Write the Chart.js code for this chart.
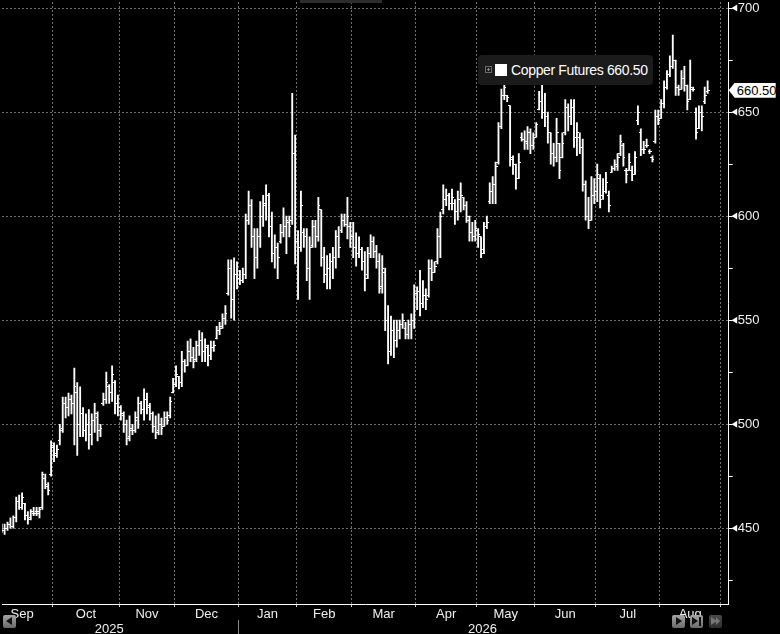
<!DOCTYPE html>
<html>
<head>
<meta charset="utf-8">
<title>Copper Futures</title>
<script src="https://cdn.jsdelivr.net/npm/chart.js@4.4.1/dist/chart.umd.min.js"></script>
<style>
  html, body { margin: 0; padding: 0; background: #000; }
  #wrap { position: relative; width: 780px; height: 634px; overflow: hidden; background: #000; font-family: 'Liberation Sans', Arial, sans-serif; }
  #chart { position: absolute; left: 0; top: 0; }
  #thumb { position: absolute; left: 300px; top: 0; width: 82px; height: 3px; background: #2c2c2c; }
  #legend { position: absolute; left: 478px; top: 55px; width: 175px; height: 30px; box-sizing: border-box; padding-left: 33px;
            background: #1b1b1b; border-radius: 4px; color: #fff; font-size: 14px; letter-spacing: -0.35px; line-height: 30px; white-space: nowrap; }
  #legend .exp { position: absolute; left: 7px; top: 11px; width: 5px; height: 5px; border: 1px solid #6a6a6a; }
  #legend .exp::before { content: ''; position: absolute; left: 1px; top: 2px; width: 3px; height: 1px; background: #8a8a8a; }
  #legend .exp::after { content: ''; position: absolute; left: 2px; top: 1px; width: 1px; height: 3px; background: #8a8a8a; }
  #legend .sw { position: absolute; left: 17px; top: 9px; width: 12px; height: 12px; background: #fff; }
  #lastTag { position: absolute; left: 729px; top: 81px; width: 47px; height: 15px; box-sizing: border-box; padding-left: 8px;
             background: #fff; color: #000; font-size: 13px; line-height: 15px;
             clip-path: polygon(0 50%, 6px 0, 100% 0, 100% 100%, 6px 100%); }
  .nav { position: absolute; width: 13px; height: 13px; border-radius: 2px; background: linear-gradient(#a4a4a4, #6a6a6a); }
  .nav.off { background: linear-gradient(#4a4a4a, #2e2e2e); }
  .nav i { position: absolute; top: 2px; width: 0; height: 0; border-top: 4.5px solid transparent; border-bottom: 4.5px solid transparent; }
  .nav .l { left: 3px; border-right: 6px solid #111; }
  .nav .r { left: 4px; border-left: 6px solid #111; }
  .nav .bar { position: absolute; top: 2px; left: 9px; width: 2px; height: 9px; background: #111; }
  .nav.off .r { border-left-color: #777; }
</style>
</head>
<body>
<div id="wrap">
  <canvas id="chart" width="780" height="634"></canvas>
  <div id="thumb"></div>
  <div id="legend"><span class="exp"></span><span class="sw"></span>Copper Futures 660.50</div>
  <div id="lastTag">660.50</div>
  <div class="nav" style="left:3px;top:615px"><i class="l"></i></div>
  <div class="nav" style="left:672px;top:615px"><i class="r"></i></div>
  <div class="nav" style="left:690px;top:615px"><i class="r" style="left:2px"></i><span class="bar"></span></div>
  <div class="nav off" style="left:709px;top:615px"><i class="r" style="left:2px"></i><i class="r" style="left:7px;border-left-width:4px"></i></div>
</div>
<script>
// Axis labels and trading-day positions
const monthLabels = ['Sep', 'Oct', 'Nov', 'Dec', 'Jan', 'Feb', 'Mar', 'Apr', 'May', 'Jun', 'Jul', 'Aug'];
const monthStarts = [0, 21, 44, 63, 85, 105, 124, 146, 167, 187, 208, 230, 251]; // trading-day index where each month begins
const yearLabels = ['2025', '2026'];
const yearLabelDays = [40, 168.5];
const yearBreakDay = 84.5;
const yTicks = [425, 450, 475, 500, 525, 550, 575, 600, 625, 650, 675, 700];
const lastPrice = 660.50;

// Daily OHLC, first bar is trading day 3
const firstDay = 3;
const opens = [
  451,449,450,452,451,455,463,460,462,456, 455,457,458,457,460,474,470,476,489,486,
  492,498,510,508,512,510,515,500,505,497, 500,495,502,503,497,510,512,518,515,520,
  510,508,504,500,494,498,497,503,510,507, 512,508,505,499,497,500,499,503,504,515,
  519,523,520,530,528,535,532,531,538,540, 535,537,533,537,541,545,547,551,563,575,
  560,572,570,569,572,598,605,590,580,590, 600,606,610,595,582,585,588,592,595,597,
  598,630,588,585,592,590,575,586,595,590, 603,580,572,575,578,580,590,593,598,596,
  595,590,585,582,584,578,572,582,588,583, 578,566,573,550,535,545,540,545,548,546,
  543,548,550,563,564,558,562,562,575,573, 578,590,603,608,610,606,606,602,608,609,
  605,598,592,590,593,590,584,595,607,612, 615,626,643,658,658,653,627,625,618,638,
  637,635,640,634,638,651,655,650,648,640, 630,628,635,628,640,652,648,652,638,638,
  633,615,600,598,610,612,618,610,612,610, 621,623,624,630,634,622,622,622,620,646,
  640,632,634,631,628,636,648,647,654,662, 668,672,675,662,661,666,663,656,661,650,
  642,650,655,660
];
const highs = [
  452,452,453,455,456,465,466,467,462,458, 459,460,460,460,477,476,472,492,491,490,
  500,513,513,515,514,527,520,518,508,505, 507,505,510,506,500,515,525,519,528,521,
  514,509,506,502,504,500,506,513,511,517, 515,510,506,504,505,503,506,506,513,522,
  528,523,535,531,540,541,537,540,545,544, 541,538,540,540,547,549,553,557,579,579,
  580,578,574,575,601,612,608,594,594,607, 610,615,611,602,591,587,596,604,600,600,
  659,639,593,612,594,594,590,598,598,609, 603,585,581,582,585,593,595,601,601,609,
  597,597,592,590,585,583,585,591,590,586, 582,581,575,557,552,550,550,550,553,549,
  550,553,567,566,574,569,565,579,579,578, 594,602,615,613,611,613,608,612,616,609,
  607,600,597,598,594,590,597,600,616,619, 626,645,661,665,658,653,629,625,630,640,
  641,643,642,640,645,660,663,659,650,640, 635,647,635,640,656,654,656,656,645,640,
  637,617,609,619,618,625,620,618,621,612, 624,627,630,639,635,623,630,624,631,653,
  642,636,637,632,629,651,651,656,665,670, 677,687,675,663,670,672,663,675,662,652,
  653,653,662,665
];
const lows = [
  448,447,449,450,450,453,459,459,454,452, 454,456,456,455,459,469,466,475,482,484,
  490,496,503,504,505,490,485,494,494,492, 488,490,496,492,494,509,510,510,511,505,
  504,502,496,490,492,495,496,498,505,502, 505,502,496,493,495,495,499,500,503,515,
  518,517,518,525,528,530,527,530,533,530, 530,528,531,535,541,543,546,548,562,551,
  550,565,567,568,570,596,585,570,575,585, 595,598,590,578,575,570,587,590,582,590,
  596,577,560,583,585,569,560,585,585,588, 576,568,565,565,570,575,580,592,595,589,
  585,580,576,580,574,564,570,580,580,575, 563,563,545,529,533,532,537,541,546,541,
  541,541,546,555,552,556,555,561,569,573, 577,580,601,605,603,603,596,598,602,603,
  597,588,588,588,585,580,582,594,606,606, 606,625,642,656,655,624,620,613,618,636,
  632,632,630,632,638,651,647,643,635,625, 624,626,618,628,639,641,644,633,629,630,
  612,598,594,598,606,607,604,608,611,602, 621,622,622,629,624,616,622,617,620,644,
  629,630,633,630,626,635,644,647,652,661, 667,671,658,658,661,660,651,656,660,637,
  642,641,654,659
];
const closes = [
  449,450,452,451,455,463,460,465,456,454, 458,457,458,459,476,471,468,490,485,488,
  497,510,508,512,510,518,500,505,497,500, 495,502,505,497,498,512,520,515,524,510,
  508,505,500,493,497,497,502,510,507,512, 509,505,499,496,500,498,503,502,511,519,
  524,520,530,528,535,532,530,538,540,535, 538,533,537,538,545,546,551,553,575,560,
  572,570,569,572,598,605,590,580,590,600, 605,610,595,582,585,580,592,595,598,595,
  630,588,585,605,590,575,585,595,590,605, 580,572,575,578,580,590,585,598,596,600,
  590,585,582,584,578,570,582,588,583,578, 565,575,550,535,545,540,545,548,550,543,
  548,550,563,564,558,562,560,575,573,576, 590,600,608,610,606,609,602,608,610,605,
  600,592,590,594,591,582,595,597,612,615, 624,643,658,662,657,628,625,618,626,637,
  636,640,634,638,644,655,650,648,640,630, 628,640,622,635,652,648,652,638,640,633,
  615,600,598,610,612,620,608,612,616,605, 623,625,628,636,628,620,626,620,628,650,
  632,632,634,631,627,648,646,654,662,668, 672,675,662,661,666,663,655,662,661,640,
  650,648,658,660.5
];

// Visible range of the axes (trading days / price)
const xMin = 3.1, xMax = 253.25;
const yMin = 413.6, yMax = 702.9;

Chart.defaults.font.family = "'Liberation Sans', Arial, sans-serif";
Chart.defaults.font.size = 13;

const days = closes.map((c, k) => firstDay + k);
const rangeData = days.map((d, k) => ({ x: d, y: [lows[k], highs[k]] }));
const openData = days.map((d, k) => ({ x: d, y: opens[k] }));
const closeData = days.map((d, k) => ({ x: d, y: closes[k] }));

const monthBounds = monthStarts.slice(1).map(s => s - 0.5);
const monthMids = monthLabels.map((m, k) => (monthStarts[k] + monthStarts[k + 1]) / 2 - 0.5);

// small open / close ticks used as point images
function tickImage(side) {
  const c = document.createElement('canvas');
  c.width = 4; c.height = 1;
  const g = c.getContext('2d');
  g.fillStyle = '#fff';
  g.fillRect(side === 'open' ? 0 : 2, 0, 2, 1);
  return c;
}

// fixed axis sizes so the plot area matches the terminal layout
function fixSize(w, h) {
  return s => {
    if (w !== null) s.width = w;
    if (h !== null) s.height = h;
    s.paddingLeft = s.paddingRight = s.paddingTop = s.paddingBottom = 0;
  };
}

// arrow marks on labelled price ticks + year separator
const decor = {
  id: 'decor',
  afterDraw(chart) {
    const { ctx } = chart;
    const x = chart.scales.x, y = chart.scales.y, xy = chart.scales.xy;
    ctx.save();
    ctx.fillStyle = '#fff';
    yTicks.filter(v => v % 50 === 0).forEach(v => {
      const py = y.getPixelForValue(v);
      ctx.beginPath();
      ctx.moveTo(y.left + 3, py);
      ctx.lineTo(y.left + 8.5, py - 3.5);
      ctx.lineTo(y.left + 8.5, py + 3.5);
      ctx.closePath();
      ctx.fill();
    });
    const sx = Math.round(x.getPixelForValue(yearBreakDay)) + 0.5;
    ctx.strokeStyle = '#8a8a8a';
    ctx.lineWidth = 1;
    ctx.beginPath();
    ctx.moveTo(sx, xy.top - 2);
    ctx.lineTo(sx, chart.height);
    ctx.stroke();
    ctx.restore();
  }
};

const chart = new Chart(document.getElementById('chart'), {
  type: 'bar',
  data: {
    datasets: [
      { type: 'bar', data: rangeData, backgroundColor: '#fff', borderWidth: 0, barThickness: 1.2, grouped: false, xAxisID: 'x', yAxisID: 'y' },
      { type: 'line', data: openData, showLine: false, pointStyle: tickImage('open'), pointRadius: 1, pointHoverRadius: 1, xAxisID: 'x', yAxisID: 'y' },
      { type: 'line', data: closeData, showLine: false, pointStyle: tickImage('close'), pointRadius: 1, pointHoverRadius: 1, xAxisID: 'x', yAxisID: 'y' }
    ]
  },
  options: {
    responsive: false,
    animation: false,
    events: [],
    layout: { padding: 0 },
    plugins: { legend: { display: false }, tooltip: { enabled: false } },
    scales: {
      x: {
        type: 'linear', position: 'bottom', min: xMin, max: xMax, offset: false, weight: 0,
        afterBuildTicks: s => { s.ticks = monthBounds.map(v => ({ value: v })); },
        afterFit: fixSize(null, 3),
        ticks: { display: false, autoSkip: false },
        grid: { offset: false, color: '#6f6f6f', lineWidth: 1, drawTicks: true, tickLength: 3, tickColor: '#d0d0d0' },
        border: { display: true, color: '#fff', width: 1, dash: [2, 2] }
      },
      xm: {
        type: 'linear', axis: 'x', position: 'bottom', min: xMin, max: xMax, offset: false, weight: 1,
        afterBuildTicks: s => { s.ticks = monthMids.map(v => ({ value: v })); },
        afterFit: fixSize(null, 15),
        ticks: { autoSkip: false, maxRotation: 0, minRotation: 0, padding: 0, color: '#f0f0f0', callback: (v, k) => monthLabels[k] },
        grid: { display: false, drawTicks: false },
        border: { display: false }
      },
      xy: {
        type: 'linear', axis: 'x', position: 'bottom', min: xMin, max: xMax, offset: false, weight: 2,
        afterBuildTicks: s => { s.ticks = yearLabelDays.map(v => ({ value: v })); },
        afterFit: fixSize(null, 12),
        ticks: { autoSkip: false, maxRotation: 0, minRotation: 0, padding: 0, color: '#f0f0f0', callback: (v, k) => yearLabels[k] },
        grid: { display: false, drawTicks: false },
        border: { display: false }
      },
      y: {
        type: 'linear', position: 'right', min: yMin, max: yMax, beginAtZero: false,
        afterBuildTicks: s => { s.ticks = yTicks.map(v => ({ value: v })); },
        afterFit: fixSize(51.3, null),
        ticks: { autoSkip: false, padding: 5, color: '#f0f0f0', callback: v => (v % 50 === 0 ? String(v) : '') },
        grid: {
          color: c => (c.tick && c.tick.value % 50 === 0 ? '#6f6f6f' : 'rgba(0,0,0,0)'),
          drawTicks: true, tickLength: 4, tickColor: '#fff'
        },
        border: { display: true, color: '#fff', width: 1, dash: [2, 2] }
      }
    }
  },
  plugins: [decor]
});

// put the last price tag on the price scale
const tag = document.getElementById('lastTag');
tag.style.left = chart.scales.y.left + 'px';
tag.style.top = (chart.scales.y.getPixelForValue(lastPrice) - 7.5) + 'px';
</script>
</body>
</html>
